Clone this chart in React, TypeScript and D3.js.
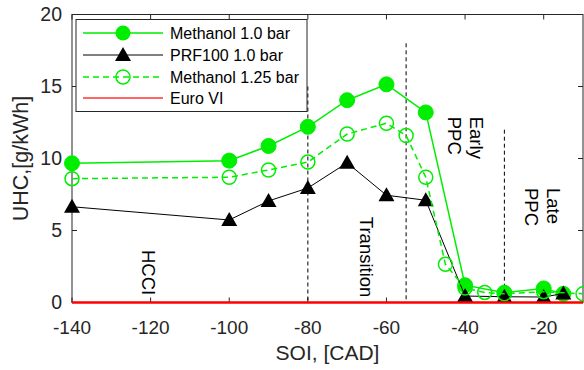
import React from "react";
import * as d3 from "d3";

const meth10X = [-140, -100, -90, -80, -70, -60, -50, -40, -30, -20, -15];
const meth10Y = [9.67, 9.85, 10.87, 12.2, 14.05, 15.15, 13.2, 1.2, 0.68, 0.98, 0.6];
const prfX = [-140, -100, -90, -80, -70, -60, -50, -40, -30, -20, -15];
const prfY = [6.65, 5.73, 7.05, 7.95, 9.7, 7.45, 7.1, 0.45, 0.4, 0.38, 0.62];
const meth125X = [-140, -100, -90, -80, -70, -60, -55, -50, -45, -40, -35, -30, -20, -10];
const meth125Y = [8.6, 8.7, 9.2, 9.75, 11.7, 12.45, 11.6, 8.7, 2.65, 1.0, 0.7, 0.6, 0.75, 0.6];
const euroX = [-140, -10];
const euroY = [0, 0];

const dividerX = [-80, -55, -30];
const dividerTop = [15, 18, 12];

const regionNames = [["HCCI"], ["Transition"], ["Early", "PPC"], ["Late", "PPC"]];
const regionX = [-120.5, -65, -40, -20.3];
const regionTop = [3.65, 5.95, 12.9, 7.95];

const xTicks = [-140, -120, -100, -80, -60, -40, -20];
const yTicks = [0, 5, 10, 15, 20];

const legendNames = ["Methanol 1.0 bar", "PRF100 1.0 bar", "Methanol 1.25 bar", "Euro VI"];

const W = 584, H = 370;
const L = 72, R = 583, T = 14.5, B = 302.5;
const GREEN = "#00ee00";
const AX = "#262626";
const FONT = "'Liberation Sans', Arial, sans-serif";

export default function App() {
  const x = d3.scaleLinear().domain([-140, -10]).range([L, R]);
  const y = d3.scaleLinear().domain([0, 20]).range([B, T]);
  const line = (xs: number[], ys: number[]) =>
    d3.line<number>().x((_, i) => x(xs[i])).y((_, i) => y(ys[i]))(xs) || "";
  const tri = (cx: number, cy: number, s = 8) =>
    `M${cx},${cy - s}L${cx + s},${cy + s * 0.75}L${cx - s},${cy + s * 0.75}Z`;

  const legX = 76, legY = 19.5, legW = 231, legH = 92;
  const rowY = [33, 55, 77, 98];

  return (
    <svg width={W} height={H} style={{ position: "absolute", left: 0, top: 0, background: "#fff" }} fontFamily={FONT}>
      <rect x={0} y={0} width={W} height={H} fill="#fff" />
      {/* axes box */}
      <rect x={L} y={T} width={R - L} height={B - T} fill="none" stroke={AX} strokeWidth={1} />
      {xTicks.map((t) => (
        <g key={"xt" + t}>
          <line x1={x(t)} x2={x(t)} y1={B} y2={B - 5} stroke={AX} />
          <line x1={x(t)} x2={x(t)} y1={T} y2={T + 5} stroke={AX} />
          <text x={x(t)} y={B + 31.5} textAnchor="middle" fontSize={19} fill={AX}>{t}</text>
        </g>
      ))}
      {yTicks.map((t) => (
        <g key={"yt" + t}>
          <line x1={L} x2={L + 5} y1={y(t)} y2={y(t)} stroke={AX} />
          <line x1={R} x2={R - 5} y1={y(t)} y2={y(t)} stroke={AX} />
          <text x={L - 10} y={y(t)} dy="0.35em" textAnchor="end" fontSize={19.5} fill={AX}>{t}</text>
        </g>
      ))}
      <text x={(L + R) / 2} y={360} textAnchor="middle" fontSize={21} fill={AX}>SOI, [CAD]</text>
      <text transform={`translate(20,${(T + B) / 2}) rotate(-90)`} textAnchor="middle" dy="0.35em" fontSize={21.5} fill={AX}>UHC,[g/kWh]</text>

      {/* dividers */}
      {dividerX.map((d, i) => (
        <line key={"dv" + i} x1={x(d)} x2={x(d)} y1={y(dividerTop[i])} y2={B} stroke="#000" strokeDasharray="4,3" strokeWidth={1} />
      ))}
      {regionNames.map((lines, i) => (
        <g key={"rg" + i}>
          {lines.map((s, j) => {
            const off = (j - (lines.length - 1) / 2) * -22;
            return (
              <text key={j} transform={`translate(${x(regionX[i]) + off},${y(regionTop[i])}) rotate(90)`} dy="0.35em" fontSize={18.5} fill="#000">{s}</text>
            );
          })}
        </g>
      ))}

      {/* Methanol 1.0 */}
      <path d={line(meth10X, meth10Y)} fill="none" stroke={GREEN} strokeWidth={1.5} />
      {meth10X.map((v, i) => (
        <circle key={"m1" + i} cx={x(v)} cy={y(meth10Y[i])} r={7.5} fill={GREEN} stroke={GREEN} />
      ))}
      {/* PRF100 */}
      <path d={line(prfX, prfY)} fill="none" stroke="#000" strokeWidth={1} />
      {prfX.map((v, i) => (
        <path key={"p" + i} d={tri(x(v), y(prfY[i]))} fill="#000" />
      ))}
      {/* Methanol 1.25 */}
      <path d={line(meth125X, meth125Y)} fill="none" stroke={GREEN} strokeWidth={1.5} strokeDasharray="6,4" />
      {meth125X.map((v, i) => (
        <circle key={"m2" + i} cx={x(v)} cy={y(meth125Y[i])} r={7} fill="none" stroke={GREEN} strokeWidth={1.5} />
      ))}
      {/* Euro VI */}
      <path d={line(euroX, euroY)} fill="none" stroke="#ff0000" strokeWidth={2.5} />

      {/* legend */}
      <rect x={legX} y={legY} width={legW} height={legH} fill="#fff" stroke={AX} strokeWidth={1} />
      {legendNames.map((n, i) => (
        <g key={"lg" + i}>
          {i === 0 && (<g><line x1={83} x2={163} y1={rowY[i]} y2={rowY[i]} stroke={GREEN} strokeWidth={1.5} /><circle cx={123} cy={rowY[i]} r={7.5} fill={GREEN} /></g>)}
          {i === 1 && (<g><line x1={83} x2={163} y1={rowY[i]} y2={rowY[i]} stroke="#000" /><path d={tri(123, rowY[i])} fill="#000" /></g>)}
          {i === 2 && (<g><line x1={83} x2={163} y1={rowY[i]} y2={rowY[i]} stroke={GREEN} strokeWidth={1.5} strokeDasharray="6,4" /><circle cx={123} cy={rowY[i]} r={7} fill="none" stroke={GREEN} strokeWidth={1.5} /></g>)}
          {i === 3 && (<line x1={83} x2={163} y1={rowY[i]} y2={rowY[i]} stroke="#ff3333" strokeWidth={1.5} />)}
          <text x={170} y={rowY[i]} dy="0.35em" fontSize={16} fill="#000">{n}</text>
        </g>
      ))}
    </svg>
  );
}
